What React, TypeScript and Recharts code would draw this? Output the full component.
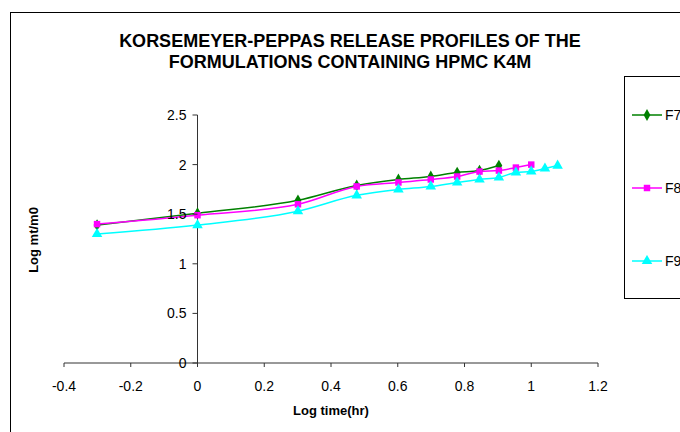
import { LineChart, Line, XAxis, YAxis, ReferenceLine, Symbols } from "recharts";

// log time (hr) for 0.5 .. 12 h
const LOG_TIME = [-0.301, 0, 0.301, 0.477, 0.602, 0.699, 0.778, 0.845, 0.903, 0.954, 1, 1.041, 1.079];
const F7 = [1.39, 1.51, 1.64, 1.79, 1.85, 1.88, 1.92, 1.94, 1.99];
const F8 = [1.40, 1.49, 1.60, 1.78, 1.82, 1.85, 1.88, 1.93, 1.94, 1.97, 2.0];
const F9 = [1.30, 1.39, 1.53, 1.69, 1.75, 1.78, 1.82, 1.85, 1.87, 1.92, 1.93, 1.96, 1.99];
const X_TICKS = [-0.4, -0.2, 0, 0.2, 0.4, 0.6, 0.8, 1, 1.2];
const Y_TICKS = [0, 0.5, 1, 1.5, 2, 2.5];

const SERIES = [
  { key: "F7", color: "#008000", shape: "diamond", size: 40 },
  { key: "F8", color: "#FF00FF", shape: "square", size: 42 },
  { key: "F9", color: "#00FFFF", shape: "triangle", size: 48 },
] as const;

const data = LOG_TIME.map((t, i) => ({ t, F7: F7[i], F8: F8[i], F9: F9[i] }));

const W = 680;
const H = 432;
const MARGIN = { top: 115, right: 82, bottom: 29, left: 63 };
const Y_AXIS_W = 1;
const X_DOMAIN: [number, number] = [-0.4, 1.2];
const PLOT_LEFT = MARGIN.left + Y_AXIS_W;
const PLOT_W = W - PLOT_LEFT - MARGIN.right;
// vertical axis crosses at x = 0
const AXIS_X = PLOT_LEFT + ((0 - X_DOMAIN[0]) / (X_DOMAIN[1] - X_DOMAIN[0])) * PLOT_W;
const FONT = '"Liberation Sans", Arial, sans-serif';
const AXIS_COLOR = "#333";

const renderYTick = (props: any) => {
  const { y, payload, index } = props;
  return (
    <g key={index}>
      <line x1={AXIS_X - 5} x2={AXIS_X} y1={y} y2={y} stroke={AXIS_COLOR} />
      <text x={AXIS_X - 11} y={y} textAnchor="end" dominantBaseline="central" fontSize={14} fill="#000" fontFamily={FONT}>
        {payload.value}
      </text>
    </g>
  );
};

function dotFor(shape: string, color: string, size: number) {
  return (props: any) => {
    if (props.cy == null) return <g key={props.index} />;
    return <Symbols key={props.index} cx={props.cx} cy={props.cy} type={shape as any} size={size} fill={color} stroke="none" />;
  };
}

export default function App() {
  return (
    <div style={{ position: "absolute", left: 0, top: 0, width: W, height: H, overflow: "hidden", background: "#fff", fontFamily: FONT }}>
      <div style={{ position: "absolute", left: 10, top: 12, width: 700, height: 440, border: "1.5px solid #000" }} />
      <div style={{ position: "absolute", left: 0, width: 700, top: 31, textAlign: "center", fontWeight: "bold", fontSize: 18, lineHeight: "21px", color: "#000" }}>
        KORSEMEYER-PEPPAS RELEASE PROFILES OF THE
        <br />
        FORMULATIONS CONTAINING HPMC K4M
      </div>
      <div style={{ position: "absolute", left: 0, top: 0 }}>
        <LineChart width={W} height={H} data={data} margin={MARGIN}>
          <XAxis
            dataKey="t"
            type="number"
            domain={X_DOMAIN}
            ticks={X_TICKS}
            interval={0}
            tickSize={4}
            tickMargin={14}
            height={40}
            stroke={AXIS_COLOR}
            tick={{ fill: "#000", fontSize: 14, fontFamily: FONT }}
            label={{ value: "Log time(hr)", position: "insideBottom", offset: -12, fill: "#000", fontSize: 13, fontWeight: "bold", fontFamily: FONT }}
          />
          <YAxis
            type="number"
            domain={[0, 2.5]}
            ticks={Y_TICKS}
            interval={0}
            width={Y_AXIS_W}
            axisLine={false}
            tickLine={false}
            tick={renderYTick}
          />
          <ReferenceLine x={0} stroke={AXIS_COLOR} />
          {SERIES.map((s) => (
            <Line
              key={s.key}
              dataKey={s.key}
              type="monotone"
              stroke={s.color}
              strokeWidth={1.5}
              dot={dotFor(s.shape, s.color, s.size)}
              activeDot={false}
              isAnimationActive={false}
            />
          ))}
        </LineChart>
      </div>
      <div
        style={{
          position: "absolute",
          left: 33,
          top: 240,
          transform: "translate(-50%, -50%) rotate(-90deg)",
          fontWeight: "bold",
          fontSize: 13,
          whiteSpace: "nowrap",
        }}
      >
        Log mt/m0
      </div>
      <div style={{ position: "absolute", left: 624, top: 76, width: 80, height: 221, border: "1px solid #000", background: "#fff" }}>
        {SERIES.map((s, i) => (
          <div key={s.key} style={{ position: "absolute", left: 7, top: 28 + i * 73, display: "flex", alignItems: "center", height: 20 }}>
            <svg width={32} height={12}>
              <line x1={0} x2={30} y1={6} y2={6} stroke={s.color} strokeWidth={1.5} />
              <Symbols cx={15} cy={6} type={s.shape as any} size={s.size} fill={s.color} />
            </svg>
            <span style={{ fontSize: 14, marginLeft: 1 }}>{s.key}</span>
          </div>
        ))}
      </div>
    </div>
  );
}
